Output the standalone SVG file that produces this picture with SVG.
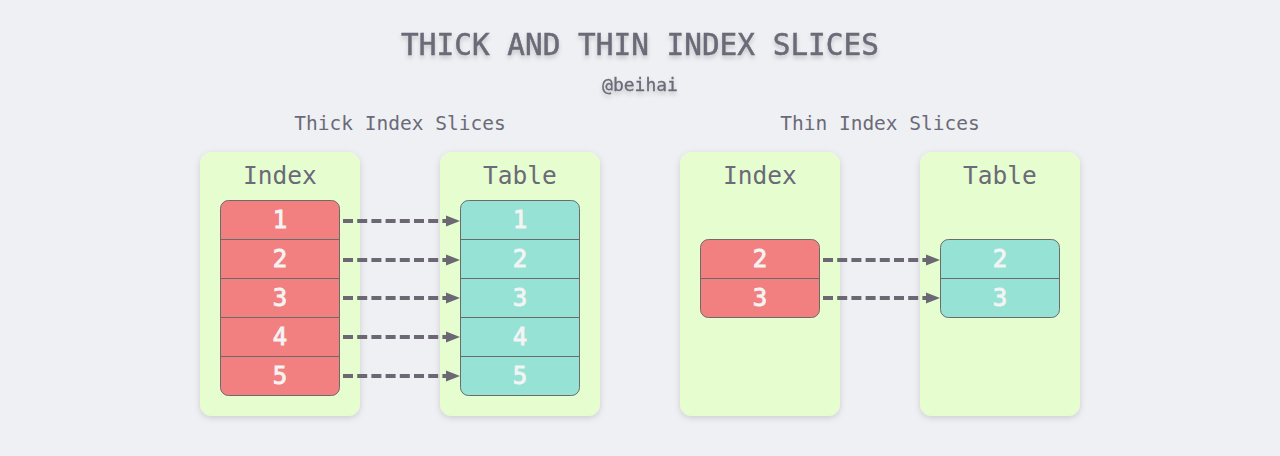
<svg xmlns="http://www.w3.org/2000/svg" width="1280" height="456" viewBox="0 0 1280 456">
<defs>
<filter id="sh" x="-20%" y="-20%" width="140%" height="140%">
<feDropShadow dx="0" dy="2" stdDeviation="3" flood-color="#000" flood-opacity="0.15"/>
</filter>
<filter id="tsh" x="-10%" y="-30%" width="120%" height="160%">
<feDropShadow dx="0" dy="3" stdDeviation="2" flood-color="#000" flood-opacity="0.18"/>
</filter>
<marker id="arr" markerWidth="14" markerHeight="12" refX="1" refY="6" orient="auto" markerUnits="userSpaceOnUse">
<path d="M0,0.5 L14,6 L0,11.5 Z" fill="#6b6874"/>
</marker>
<style>
text{font-family:"DejaVu Sans Mono","Liberation Mono",monospace;text-anchor:middle}
.title{font-size:29.4px;fill:#6b6a78;stroke:#6b6a78;stroke-width:0.5}
.sub{font-size:18px;fill:#6b6a78;stroke:#6b6a78;stroke-width:0.3}
.sec{font-size:19.5px;fill:#6b6a78}
.grp{fill:#e6fdd0}
.glabel{font-size:24.5px;fill:#6b6a78}
.red{fill:#f38080;stroke:#6b6b6b;stroke-width:1}
.teal{fill:#96e2d4;stroke:#6b6b6b;stroke-width:1}
.sep{stroke:#6b6b6b;stroke-width:1}
.num{font-size:24px;fill:#f4f4f4;stroke:#f4f4f4;stroke-width:0.9}
.conn{stroke:#6b6874;stroke-width:4;stroke-dasharray:10 4.2;fill:none;marker-end:url(#arr)}
</style>
</defs>
<rect width="1280" height="456" fill="#eff0f3"/>
<g id="title" filter="url(#tsh)">
<text class="title" x="640" y="55">THICK AND THIN INDEX SLICES</text>
<text class="sub" x="640" y="91">@beihai</text>
</g>
<text class="sec" x="400" y="130">Thick Index Slices</text>
<text class="sec" x="880" y="130">Thin Index Slices</text>

<g id="thick-index">
<rect class="grp" x="200" y="152" width="160" height="264" rx="12" filter="url(#sh)"/>
<text class="glabel" x="280" y="184">Index</text>
<rect class="red" x="220.5" y="200.5" width="119" height="195" rx="8"/>
<line class="sep" x1="220.5" y1="239.5" x2="339.5" y2="239.5"/>
<line class="sep" x1="220.5" y1="278.5" x2="339.5" y2="278.5"/>
<line class="sep" x1="220.5" y1="317.5" x2="339.5" y2="317.5"/>
<line class="sep" x1="220.5" y1="356.5" x2="339.5" y2="356.5"/>
<text class="num" x="280" y="228">1</text>
<text class="num" x="280" y="267">2</text>
<text class="num" x="280" y="306">3</text>
<text class="num" x="280" y="345">4</text>
<text class="num" x="280" y="384">5</text>
</g>

<g id="thick-table">
<rect class="grp" x="440" y="152" width="160" height="264" rx="12" filter="url(#sh)"/>
<text class="glabel" x="520" y="184">Table</text>
<rect class="teal" x="460.5" y="200.5" width="119" height="195" rx="8"/>
<line class="sep" x1="460.5" y1="239.5" x2="579.5" y2="239.5"/>
<line class="sep" x1="460.5" y1="278.5" x2="579.5" y2="278.5"/>
<line class="sep" x1="460.5" y1="317.5" x2="579.5" y2="317.5"/>
<line class="sep" x1="460.5" y1="356.5" x2="579.5" y2="356.5"/>
<text class="num" x="520" y="228">1</text>
<text class="num" x="520" y="267">2</text>
<text class="num" x="520" y="306">3</text>
<text class="num" x="520" y="345">4</text>
<text class="num" x="520" y="384">5</text>
</g>

<g id="thin-index">
<rect class="grp" x="680" y="152" width="160" height="264" rx="12" filter="url(#sh)"/>
<text class="glabel" x="760" y="184">Index</text>
<rect class="red" x="700.5" y="239.5" width="119" height="78" rx="8"/>
<line class="sep" x1="700.5" y1="278.5" x2="819.5" y2="278.5"/>
<text class="num" x="760" y="267">2</text>
<text class="num" x="760" y="306">3</text>
</g>

<g id="thin-table">
<rect class="grp" x="920" y="152" width="160" height="264" rx="12" filter="url(#sh)"/>
<text class="glabel" x="1000" y="184">Table</text>
<rect class="teal" x="940.5" y="239.5" width="119" height="78" rx="8"/>
<line class="sep" x1="940.5" y1="278.5" x2="1059.5" y2="278.5"/>
<text class="num" x="1000" y="267">2</text>
<text class="num" x="1000" y="306">3</text>
</g>

<g id="connectors">
<line class="conn" x1="343" y1="221" x2="447" y2="221"/>
<line class="conn" x1="343" y1="260" x2="447" y2="260"/>
<line class="conn" x1="343" y1="298" x2="447" y2="298"/>
<line class="conn" x1="343" y1="337" x2="447" y2="337"/>
<line class="conn" x1="343" y1="376" x2="447" y2="376"/>
<line class="conn" x1="823" y1="260" x2="927" y2="260"/>
<line class="conn" x1="823" y1="298" x2="927" y2="298"/>
</g>
</svg>
